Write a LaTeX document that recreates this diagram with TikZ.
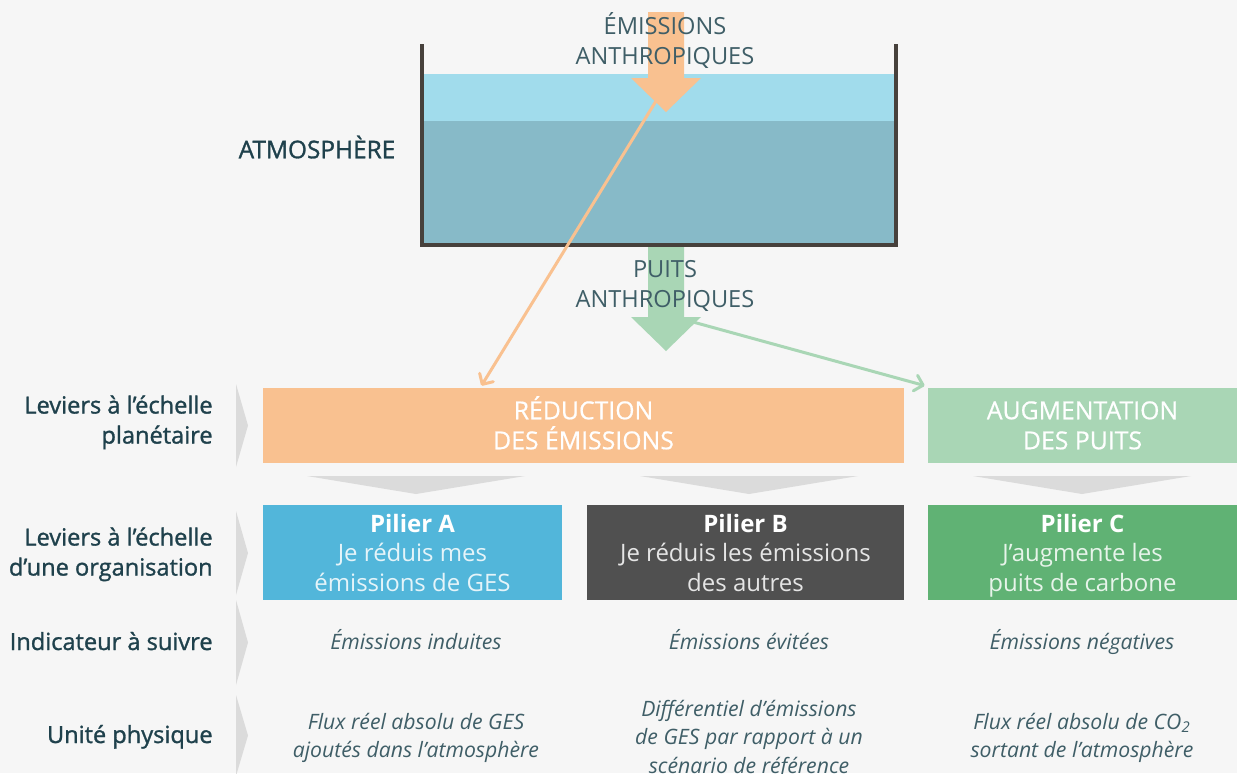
\documentclass[tikz,border=0pt]{standalone}
\usepackage{fontspec}
\setmainfont{Open Sans}
\newfontfamily\semib[FakeBold=1.2]{Open Sans}
\newfontfamily\medw[FakeBold=0.6]{Open Sans}
\usetikzlibrary{arrows.meta,positioning}

\definecolor{bgc}{HTML}{F6F6F6}
\definecolor{wall}{HTML}{47413C}
\definecolor{skyw}{HTML}{A1DCEC}
\definecolor{deepw}{HTML}{87BAC8}
\definecolor{emiss}{HTML}{F9C190}
\definecolor{puits}{HTML}{A9D6B5}
\definecolor{txtd}{HTML}{1F414C}
\definecolor{txtm}{HTML}{3F5E67}
\definecolor{pilA}{HTML}{52B6DA}
\definecolor{pilB}{HTML}{505050}
\definecolor{pilC}{HTML}{60B274}
\definecolor{chev}{HTML}{DBDBDB}

\begin{document}
\begin{tikzpicture}[x=0.5pt,y=-0.5pt]
	\tikzstyle{every node}+=[inner sep=0pt]
	\tikzstyle{flowtext}=[align=center,text=txtm,font=\fontsize{11.8}{15}\selectfont]
	\tikzstyle{rowlabel}=[anchor=east,align=right,text=txtd,font=\fontsize{11.8}{15}\selectfont\semib]
	\tikzstyle{lever}=[align=center,text=white,font=\fontsize{12.4}{15}\selectfont\medw,minimum height=37.5pt,text depth=2.8pt]
	\tikzstyle{pillar}=[align=center,font=\fontsize{12}{14.75}\selectfont,minimum height=47.5pt,text depth=0pt]
	\tikzstyle{italtext}=[align=center,text=txtm,font=\fontsize{10.6}{14.25}\selectfont\itshape]
	\tikzstyle{link}=[line width=1.5pt,line cap=round,-{Straight Barb[length=4pt,width=8pt,round]}]
	\useasboundingbox (0,0) rectangle (1237,773);
	\fill [bgc] (0,0) rectangle (1237,773);
	% atmosphere tank
	\fill [skyw] (421,74) rectangle (897,121);
	\fill [deepw] (421,121) rectangle (897,245);
	\draw [wall,line width=2pt] (422,44) -- (422,245) -- (896,245) -- (896,44);
	\node [text=txtd,font=\fontsize{12.2}{15}\selectfont\semib] (atmo) at (317,147) {ATMOSPHÈRE};
	% big flow arrows
	\fill [emiss] (648,12) -- (684,12) -- (684,78) -- (701,78) -- (666,112) -- (631,78) -- (648,78) -- cycle;
	\fill [puits] (648,247) -- (684,247) -- (684,317) -- (701,317) -- (666,351) -- (631,317) -- (648,317) -- cycle;
	\node [flowtext] (emis) at (665,41) {ÉMISSIONS\\ANTHROPIQUES};
	\node [flowtext] (sink) at (665,285.5) {PUITS\\ANTHROPIQUES};
	\coordinate (emtip) at (656,101);
	\coordinate (sinktip) at (693,322);
	% levers
	\node [lever,fill=emiss,minimum width=320.5pt] (reduc) at (583.5,425.5) {\vphantom{É}RÉDUCTION\\DES ÉMISSIONS};
	\node [lever,fill=puits,minimum width=154.5pt] (augm) at (1082.5,425.5) {\vphantom{É}AUGMENTATION\\DES PUITS};
	\draw [emiss,link] (emtip) -- ([xshift=-51pt,yshift=1pt]reduc.north);
	\draw [puits,link] (sinktip) -- ([xshift=-1.5pt,yshift=1pt]augm.north west);
	\foreach \cx in {416,749,1082}
		\fill [chev] (\cx-109,476) -- (\cx+109,476) -- (\cx,494) -- cycle;
	% pillars
	\node [pillar,fill=pilA,minimum width=149.5pt,text=white!85!pilA] (pilierA) at (412.5,552.5)
		{\textcolor{white}{\bfseries Pilier A}\\Je réduis mes\\émissions de GES};
	\node [pillar,fill=pilB,minimum width=158.5pt,text=white!85!pilB] (pilierB) at (745.5,552.5)
		{\textcolor{white}{\bfseries Pilier B}\\Je réduis les émissions\\des autres};
	\node [pillar,fill=pilC,minimum width=154.5pt,text=white!85!pilC] (pilierC) at (1082.5,552.5)
		{\textcolor{white}{\bfseries Pilier C}\\J’augmente les\\puits de carbone};
	% indicators and units
	\node [italtext] (indA) at (416,644) {Émissions induites\strut};
	\node [italtext] (indB) at (749,644) {Émissions évitées\strut};
	\node [italtext] (indC) at (1082,644) {Émissions négatives\strut};
	\node [italtext] (uniA) at (416,739.5) {Flux réel absolu de GES\\ajoutés dans l’atmosphère\strut};
	\node [italtext] (uniB) at (749,741) {Différentiel d’émissions\\de GES par rapport à un\\scénario de référence\strut};
	\node [italtext] (uniC) at (1082,739.5) {Flux réel absolu de CO\textsubscript{2}\\sortant de l’atmosphère\strut};
	% row labels
	\foreach \ya/\yb in {384/467,511/595,600/685,695/776}
		\fill [chev] (236,\ya) -- (248,{(\ya+\yb)/2}) -- (236,\yb) -- cycle;
	\node [rowlabel] (rowA) at (213,424) {Leviers à l’échelle\\planétaire\strut};
	\node [rowlabel] (rowB) at (213,556) {Leviers à l’échelle\\d’une organisation\strut};
	\node [rowlabel] (rowC) at (213,644) {Indicateur à suivre\strut};
	\node [rowlabel] (rowD) at (213,737) {Unité physique\strut};
\end{tikzpicture}
\end{document}
